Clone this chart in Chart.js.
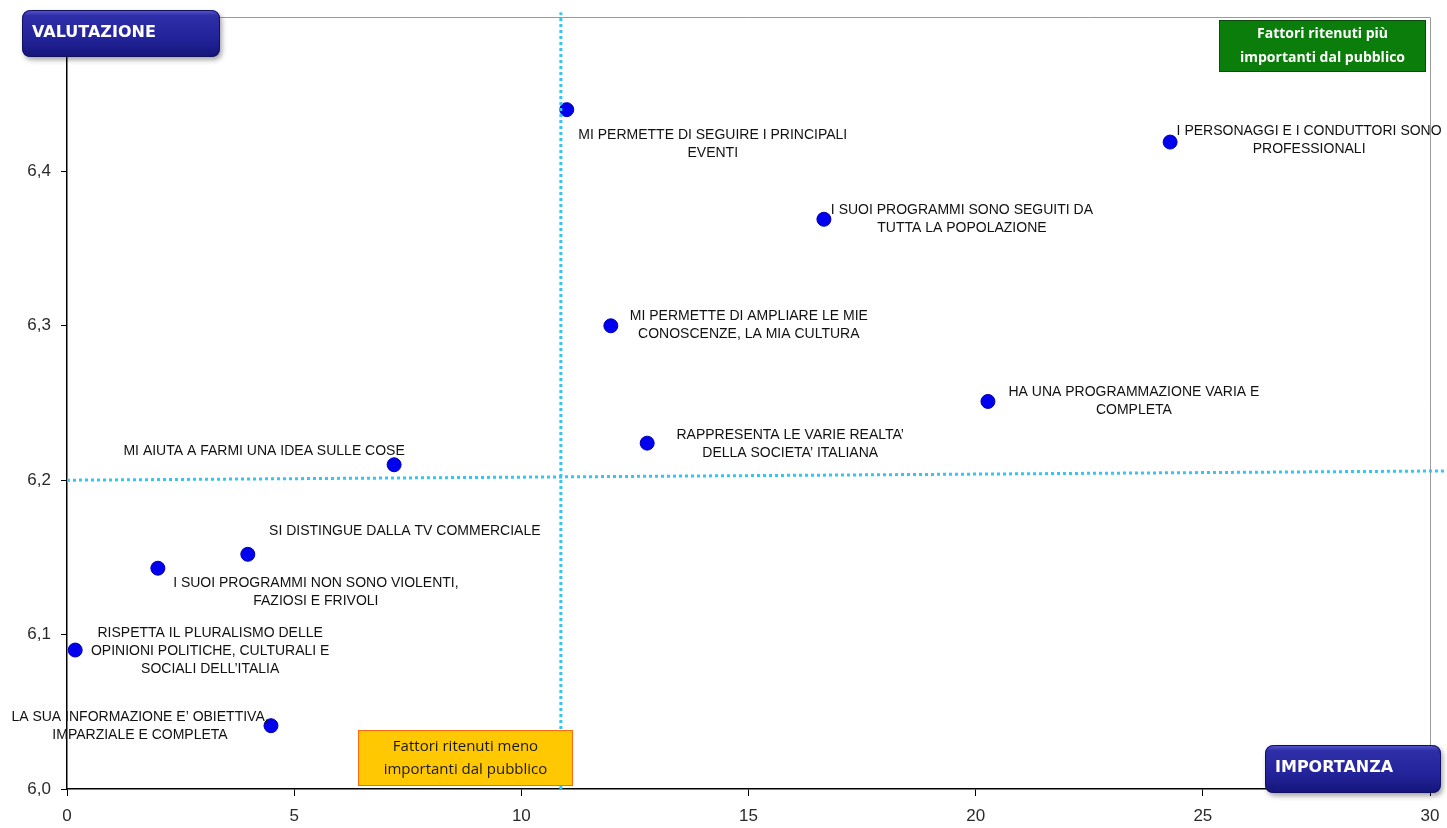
<!DOCTYPE html>
<html>
<head>
<meta charset="utf-8">
<script src="https://cdn.jsdelivr.net/npm/chart.js@4.4.1/dist/chart.umd.min.js"></script>
<style>
  html, body { margin: 0; padding: 0; background: #fff; }
  #wrap { width: 1447px; height: 828px; position: relative; }
</style>
</head>
<body>
<div id="wrap"><canvas id="c" width="1447" height="828"></canvas></div>
<script>
// Fattori: importanza (x) e valutazione (y)
const factorLabels = [
  ['MI PERMETTE DI SEGUIRE I PRINCIPALI', 'EVENTI'],
  ['I PERSONAGGI E I CONDUTTORI SONO', 'PROFESSIONALI'],
  ['I SUOI PROGRAMMI SONO SEGUITI DA', 'TUTTA LA POPOLAZIONE'],
  ['MI PERMETTE DI AMPLIARE LE MIE', 'CONOSCENZE, LA MIA CULTURA'],
  ['HA UNA PROGRAMMAZIONE VARIA E', 'COMPLETA'],
  ['RAPPRESENTA LE VARIE REALTA’', 'DELLA SOCIETA’ ITALIANA'],
  ['MI AIUTA A FARMI UNA IDEA SULLE COSE'],
  ['SI DISTINGUE DALLA TV COMMERCIALE'],
  ['I SUOI PROGRAMMI NON SONO VIOLENTI,', 'FAZIOSI E FRIVOLI'],
  ['RISPETTA IL PLURALISMO DELLE', 'OPINIONI POLITICHE, CULTURALI E', 'SOCIALI DELL’ITALIA'],
  ['LA SUA INFORMAZIONE E’ OBIETTIVA,', 'IMPARZIALE E COMPLETA']
];
const importanza = [11.0, 24.28, 16.66, 11.97, 20.27, 12.77, 7.2, 3.98, 2.0, 0.18, 4.49];
const valutazione = [6.44, 6.419, 6.369, 6.30, 6.251, 6.224, 6.21, 6.152, 6.143, 6.09, 6.041];

// Soglie dei quadranti
const sogliaImportanza = 10.87;
const sogliaValutazione = [6.2, 6.206];

const xTicks = [0, 5, 10, 15, 20, 25, 30];
const yTicks = [6.0, 6.1, 6.2, 6.3, 6.4];

// Posizione delle etichette rispetto al punto: [dx centro, dy prima riga]
const labelOffsets = [
  [146, 26], [139, -11], [138, -9], [138, -10], [146, -9], [143, -8],
  [-130, -14], [157, -23], [158, 15], [135, -17], [-131, -9]
];

const points = importanza.map((x, i) => ({ x: x, y: valutazione[i] }));

function roundRect(ctx, x, y, w, h, r) {
  ctx.beginPath();
  ctx.moveTo(x + r, y);
  ctx.lineTo(x + w - r, y);
  ctx.quadraticCurveTo(x + w, y, x + w, y + r);
  ctx.lineTo(x + w, y + h - r);
  ctx.quadraticCurveTo(x + w, y + h, x + w - r, y + h);
  ctx.lineTo(x + r, y + h);
  ctx.quadraticCurveTo(x, y + h, x, y + h - r);
  ctx.lineTo(x, y + r);
  ctx.quadraticCurveTo(x, y, x + r, y);
  ctx.closePath();
}

function badge(ctx, x, y, w, h, text) {
  ctx.save();
  ctx.shadowColor = 'rgba(0,0,0,0.35)';
  ctx.shadowBlur = 5;
  ctx.shadowOffsetX = 2;
  ctx.shadowOffsetY = 3;
  roundRect(ctx, x, y, w, h, 9);
  const g = ctx.createLinearGradient(0, y, 0, y + h);
  g.addColorStop(0, '#5a5ad0');
  g.addColorStop(0.12, '#2e2ea8');
  g.addColorStop(0.6, '#23239a');
  g.addColorStop(1, '#15157a');
  ctx.fillStyle = g;
  ctx.fill();
  ctx.restore();
  ctx.save();
  roundRect(ctx, x + 0.5, y + 0.5, w - 1, h - 1, 9);
  ctx.strokeStyle = '#10105e';
  ctx.lineWidth = 1;
  ctx.stroke();
  ctx.fillStyle = '#ffffff';
  ctx.font = 'bold 16px "DejaVu Sans", Verdana, sans-serif';
  ctx.textBaseline = 'middle';
  ctx.textAlign = 'left';
  ctx.fillText(text, x + 10, y + h / 2 - 1);
  ctx.restore();
}

function noteBox(ctx, x, y, w, h, fill, stroke, color, font, lines, lineGap) {
  ctx.save();
  ctx.fillStyle = fill;
  ctx.fillRect(x, y, w, h);
  ctx.strokeStyle = stroke;
  ctx.lineWidth = 1;
  ctx.strokeRect(x + 0.5, y + 0.5, w - 1, h - 1);
  ctx.fillStyle = color;
  ctx.font = font;
  ctx.textAlign = 'center';
  ctx.textBaseline = 'middle';
  const cy = y + h / 2 - (lines.length - 1) * lineGap / 2;
  lines.forEach((t, i) => ctx.fillText(t, x + w / 2, cy + i * lineGap));
  ctx.restore();
}

const framePlugin = {
  id: 'frame',
  beforeDatasetsDraw(chart) {
    const { ctx, chartArea: a } = chart;
    ctx.save();
    ctx.strokeStyle = '#9a9a9a';
    ctx.lineWidth = 1;
    ctx.beginPath();
    ctx.moveTo(a.left, a.top + 0.5);
    ctx.lineTo(a.right + 0.5, a.top + 0.5);
    ctx.lineTo(a.right + 0.5, a.bottom);
    ctx.stroke();
    ctx.restore();
  }
};

const labelPlugin = {
  id: 'pointLabels',
  afterDatasetsDraw(chart) {
    const { ctx } = chart;
    const meta = chart.getDatasetMeta(2);
    ctx.save();
    ctx.fillStyle = '#111';
    ctx.font = '14px "Liberation Sans", Arial, sans-serif';
    ctx.textAlign = 'center';
    ctx.textBaseline = 'middle';
    meta.data.forEach((el, i) => {
      const [dx, dy] = labelOffsets[i];
      factorLabels[i].forEach((line, j) => {
        ctx.fillText(line, el.x + dx, el.y + dy + j * 18);
      });
    });
    ctx.restore();
  }
};

const overlayPlugin = {
  id: 'overlay',
  afterDraw(chart) {
    const { ctx } = chart;
    badge(ctx, 22, 10, 198, 47, 'VALUTAZIONE');
    badge(ctx, 1265, 745, 176, 48, 'IMPORTANZA');
    noteBox(ctx, 1219, 20, 207, 52, '#0a7d0a', '#0a4a0a', '#ffffff',
      'bold 14px "Open Sans", "Liberation Sans", sans-serif',
      ['Fattori ritenuti più', 'importanti dal pubblico'], 24);
    noteBox(ctx, 358, 730, 215, 56, '#ffc800', '#ff6a10', '#1a1a1a',
      '15px "Open Sans", "Liberation Sans", sans-serif',
      ['Fattori ritenuti meno', 'importanti dal pubblico'], 23);
  }
};

// Le etichette dei tick non devono spostare l'area del grafico
function noOverflow(scale) {
  scale.paddingTop = 0;
  scale.paddingBottom = 0;
  scale.paddingLeft = 0;
  scale.paddingRight = 0;
}

new Chart(document.getElementById('c'), {
  type: 'scatter',
  data: {
    datasets: [
      {
        type: 'line',
        data: [{ x: sogliaImportanza, y: 6.0 }, { x: sogliaImportanza, y: 6.503 }],
        borderColor: '#2fc8f5',
        borderWidth: 3,
        borderDash: [3, 3],
        pointRadius: 0,
        fill: false,
        clip: false
      },
      {
        type: 'line',
        data: [{ x: 0, y: sogliaValutazione[0] }, { x: 30.38, y: sogliaValutazione[1] }],
        borderColor: '#2fc8f5',
        borderWidth: 3,
        borderDash: [3, 3],
        pointRadius: 0,
        fill: false,
        clip: false
      },
      {
        data: points,
        backgroundColor: '#0000ee',
        borderColor: '#0000b0',
        borderWidth: 1,
        pointRadius: 7,
        pointHoverRadius: 7
      }
    ]
  },
  options: {
    responsive: false,
    animation: false,
    events: [],
    layout: { padding: { top: 17, right: 17, left: 0, bottom: 0 } },
    plugins: { legend: { display: false }, tooltip: { enabled: false } },
    scales: {
      x: {
        type: 'linear',
        min: 0,
        max: 30,
        afterBuildTicks(scale) { scale.ticks = xTicks.map(v => ({ value: v })); },
        afterFit(scale) { scale.height = 39; noOverflow(scale); },
        grid: { drawOnChartArea: false, drawTicks: true, tickLength: 7, color: '#000' },
        border: { display: true, color: '#000', width: 1.5 },
        ticks: {
          color: '#2a2a2a',
          padding: 10,
          font: { family: '"Liberation Sans", Arial, sans-serif', size: 17 },
          maxRotation: 0
        }
      },
      y: {
        type: 'linear',
        min: 6.0,
        max: 6.5,
        afterBuildTicks(scale) { scale.ticks = yTicks.map(v => ({ value: v })); },
        afterFit(scale) { scale.width = 67; noOverflow(scale); },
        grid: { drawOnChartArea: false, drawTicks: true, tickLength: 6, color: '#000' },
        border: { display: true, color: '#000', width: 1.5 },
        ticks: {
          color: '#2a2a2a',
          padding: 10,
          font: { family: '"Liberation Sans", Arial, sans-serif', size: 17 },
          callback: v => v.toFixed(1).replace('.', ',')
        }
      }
    }
  },
  plugins: [framePlugin, labelPlugin, overlayPlugin]
});
</script>
</body>
</html>
